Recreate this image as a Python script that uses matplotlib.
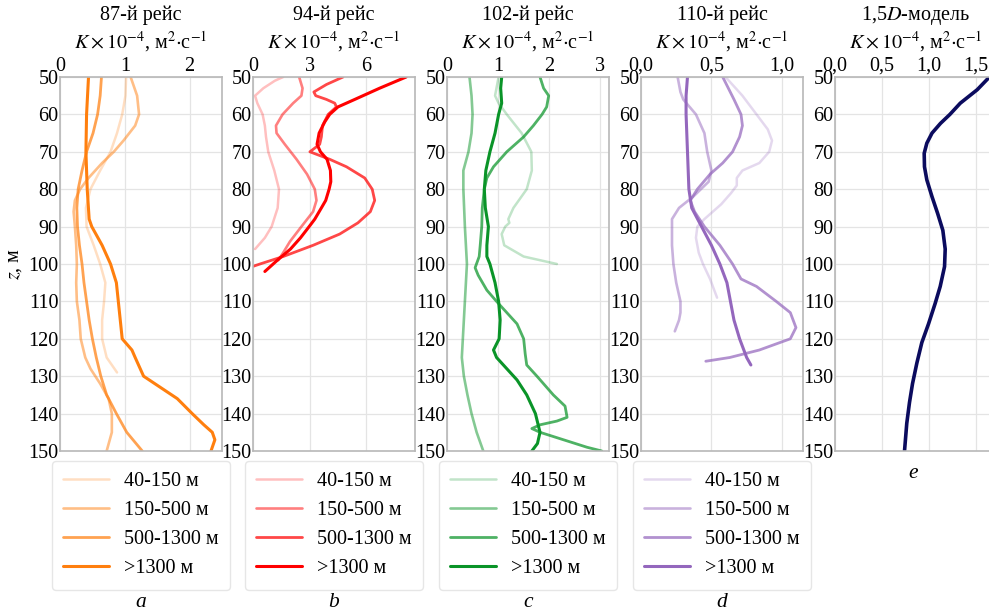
import numpy as np
import matplotlib
matplotlib.use("Agg")
import matplotlib.pyplot as plt

plt.rcParams['font.family'] = ['Liberation Serif', 'DejaVu Serif']
plt.rcParams['mathtext.fontset'] = 'stix'

# ---------------- data ----------------
titles = ["87-й рейс", "94-й рейс", "102-й рейс", "110-й рейс", "1,5$D$-модель"]
panel_letters = ["a", "b", "c", "d", "e"]
series_labels = ["40-150 м", "150-500 м", "500-1300 м", ">1300 м"]
yticks = [50, 60, 70, 80, 90, 100, 110, 120, 130, 140, 150]

xticks_a = [0, 1, 2]
xticks_b = [0, 3, 6]
xticks_c = [0, 1, 2, 3]
xticks_d = [0.0, 0.5, 1.0]
xticks_e = [0.0, 0.5, 1.0, 1.5]
xticklabels_a = ["0", "1", "2"]
xticklabels_b = ["0", "3", "6"]
xticklabels_c = ["0", "1", "2", "3"]
xticklabels_d = ["0,0", "0,5", "1,0"]
xticklabels_e = ["0,0", "0,5", "1,0", "1,5"]
xlims = [2.5, 8.6, 3.17, 1.15, 1.72]

# Panel a (87th cruise)
a1_z = [50, 55, 60, 65, 70, 75, 80, 85, 90, 95, 100, 105, 110, 115, 120, 125, 129]
a1_k = [1.02, 1.01, 0.96, 0.88, 0.78, 0.62, 0.47, 0.40, 0.41, 0.52, 0.62, 0.70, 0.68, 0.65, 0.65, 0.72, 0.88]
a2_z = [50, 55, 60, 63, 67, 70, 73, 77, 80, 83, 86, 90, 95, 100, 105, 110, 115, 120, 125, 128, 132, 136, 140, 145, 150]
a2_k = [1.09, 1.19, 1.22, 1.16, 0.98, 0.83, 0.65, 0.44, 0.31, 0.23, 0.21, 0.23, 0.25, 0.26, 0.25, 0.26, 0.30, 0.32, 0.39, 0.47, 0.62, 0.75, 0.80, 0.80, 0.72]
a3_z = [50, 55, 60, 65, 70, 75, 80, 85, 90, 95, 100, 105, 110, 115, 120, 125, 130, 135, 140, 145, 150]
a3_k = [0.64, 0.62, 0.58, 0.51, 0.41, 0.34, 0.28, 0.26, 0.27, 0.30, 0.34, 0.37, 0.41, 0.45, 0.50, 0.56, 0.63, 0.72, 0.87, 1.03, 1.27]
a4_z = [50, 60, 70, 80, 88, 90, 95, 100, 105, 110, 115, 120, 123, 125, 130, 133, 136, 140, 143, 145, 147, 150]
a4_k = [0.44, 0.41, 0.40, 0.42, 0.45, 0.49, 0.65, 0.78, 0.87, 0.90, 0.93, 0.96, 1.11, 1.16, 1.29, 1.55, 1.81, 2.04, 2.22, 2.35, 2.39, 2.33]

# Panel b (94th cruise)
b1_z = [50, 51, 53, 55, 57, 60, 63, 66, 70, 75, 80, 85, 90, 93, 96]
b1_k = [1.60, 1.16, 0.55, 0.11, 0.23, 0.51, 0.63, 0.69, 0.81, 1.13, 1.38, 1.31, 0.99, 0.63, 0.11]
b2_z = [50, 53, 55, 57, 60, 63, 65, 68, 72, 76, 80, 83, 86, 90, 94, 97, 99]
b2_k = [2.45, 2.63, 2.57, 2.13, 1.57, 1.22, 1.25, 1.69, 2.31, 2.87, 3.28, 3.37, 3.19, 2.57, 1.96, 1.60, 1.34]
b3_z = [50, 52, 54, 55, 56, 57, 58, 60, 63, 66, 68, 70, 72, 74, 77, 80, 83, 86, 89, 92, 95, 98, 100, 100.6]
b3_k = [4.78, 3.90, 3.23, 3.33, 3.90, 4.34, 4.43, 3.99, 3.69, 3.63, 3.54, 3.02, 4.07, 4.96, 5.93, 6.33, 6.46, 6.23, 5.57, 4.60, 3.19, 1.60, 0.37, 0.02]
b4_z = [50, 53, 56, 58, 60, 62, 65, 68, 70, 72, 75, 78, 80, 83, 85, 88, 90, 93, 96, 99, 102]
b4_k = [8.13, 6.72, 5.40, 4.51, 4.07, 3.81, 3.51, 3.40, 3.58, 3.93, 4.11, 4.13, 4.04, 3.86, 3.63, 3.28, 2.98, 2.52, 1.99, 1.29, 0.63]

# Panel c (102nd cruise)
c1_z = [50, 55, 57, 60, 65, 70, 75, 80, 85, 88, 89, 90, 92, 95, 98, 100]
c1_k = [1.01, 0.94, 1.01, 1.17, 1.46, 1.65, 1.66, 1.56, 1.30, 1.20, 1.22, 1.14, 1.07, 1.12, 1.50, 2.15]
c2_z = [50, 55, 60, 65, 70, 75, 80, 90, 100, 110, 120, 125, 130, 135, 140, 145, 150]
c2_k = [0.44, 0.48, 0.50, 0.48, 0.42, 0.32, 0.32, 0.35, 0.39, 0.35, 0.31, 0.29, 0.33, 0.40, 0.48, 0.58, 0.71]
c3_z = [50, 53, 55, 58, 60, 63, 66, 70, 74, 77, 80, 85, 90, 95, 98, 101, 103, 107, 110, 113, 116, 120, 124, 127, 130, 135, 138, 141, 142, 143, 144, 145, 147, 149, 150]
c3_k = [1.82, 1.89, 1.99, 1.95, 1.86, 1.69, 1.50, 1.17, 0.91, 0.78, 0.73, 0.69, 0.68, 0.65, 0.63, 0.55, 0.61, 0.78, 0.97, 1.17, 1.37, 1.50, 1.53, 1.56, 1.76, 2.08, 2.31, 2.35, 2.15, 1.82, 1.66, 1.82, 2.28, 2.74, 3.03]
c4_z = [50, 53, 57, 60, 65, 70, 75, 80, 85, 90, 95, 98, 100, 105, 110, 115, 120, 123, 125, 128, 131, 135, 140, 145, 148, 150]
c4_k = [1.07, 1.05, 1.07, 1.01, 0.94, 0.84, 0.76, 0.73, 0.75, 0.81, 0.78, 0.78, 0.84, 0.94, 1.01, 1.04, 1.02, 0.91, 0.97, 1.17, 1.37, 1.56, 1.73, 1.82, 1.77, 1.66]

# Panel d (110th cruise)
d1_z = [50, 55, 60, 64, 67, 70, 73, 75, 77, 79, 81, 84, 86, 88, 90, 93, 97, 100, 104, 108, 109]
d1_k = [0.60, 0.72, 0.82, 0.90, 0.93, 0.91, 0.84, 0.72, 0.68, 0.68, 0.64, 0.57, 0.51, 0.45, 0.40, 0.39, 0.41, 0.44, 0.49, 0.53, 0.54]
d2_z = [50, 54, 56, 60, 65, 70, 75, 78, 82, 85, 88, 90, 95, 100, 105, 110, 113, 115, 118]
d2_k = [0.26, 0.28, 0.30, 0.39, 0.45, 0.47, 0.50, 0.48, 0.37, 0.27, 0.22, 0.22, 0.22, 0.23, 0.25, 0.28, 0.28, 0.27, 0.24]
d3_z = [50, 53, 56, 60, 63, 66, 70, 73, 76, 80, 83, 86, 90, 95, 100, 104, 106, 110, 113, 117, 120, 123, 125, 126]
d3_k = [0.58, 0.62, 0.66, 0.71, 0.72, 0.70, 0.65, 0.58, 0.49, 0.40, 0.35, 0.38, 0.45, 0.56, 0.65, 0.71, 0.82, 0.96, 1.06, 1.10, 1.06, 0.84, 0.63, 0.46]
d4_z = [50, 55, 60, 70, 80, 85, 90, 95, 100, 105, 109, 115, 120, 125, 127]
d4_k = [0.33, 0.32, 0.32, 0.33, 0.34, 0.36, 0.43, 0.50, 0.56, 0.61, 0.63, 0.66, 0.70, 0.75, 0.78]

# Panel e (1.5D model)
e_z = [50, 53.4, 57, 60, 62.4, 65, 67.7, 70.4, 74, 77.5, 82, 86.5, 91, 96, 100.7, 106, 110.5, 116, 121, 126.5, 132, 137, 142.6, 150]
e_k = [1.64, 1.51, 1.33, 1.22, 1.12, 1.03, 0.975, 0.947, 0.95, 0.975, 1.03, 1.09, 1.145, 1.17, 1.163, 1.117, 1.064, 0.993, 0.922, 0.869, 0.823, 0.791, 0.762, 0.738]

panels = [
    [(a1_z, a1_k), (a2_z, a2_k), (a3_z, a3_k), (a4_z, a4_k)],
    [(b1_z, b1_k), (b2_z, b2_k), (b3_z, b3_k), (b4_z, b4_k)],
    [(c1_z, c1_k), (c2_z, c2_k), (c3_z, c3_k), (c4_z, c4_k)],
    [(d1_z, d1_k), (d2_z, d2_k), (d3_z, d3_k), (d4_z, d4_k)],
]
xticks_all = [xticks_a, xticks_b, xticks_c, xticks_d, xticks_e]
xticklabels_all = [xticklabels_a, xticklabels_b, xticklabels_c, xticklabels_d, xticklabels_e]

base_colors = ['#ff7f0e', '#ff0000', '#0a9428', '#9467bd']
alphas = [0.25, 0.5, 0.72, 1.0]
widths = [1.8, 1.9, 2.0, 2.2]

# ---------------- figure ----------------
W, H = 989, 613
fig = plt.figure(figsize=(W / 100, H / 100), dpi=100)
lefts = [60, 253, 447, 641, 835]
ax_w, ax_top, ax_bot = 162, 77, 451
FS = 14.5

for i in range(5):
    ax = fig.add_axes([lefts[i] / W, (H - ax_bot) / H, ax_w / W, (ax_bot - ax_top) / H])
    if i < 4:
        for j, (z, k) in enumerate(panels[i]):
            ax.plot(k, z, color=base_colors[i], alpha=alphas[j], lw=widths[j],
                    label=series_labels[j], solid_capstyle='round')
    else:
        ax.plot(e_k, e_z, color='#0b0b5e', lw=2.6)
    ax.set_xlim(0, xlims[i])
    ax.set_ylim(150, 50)
    ax.set_yticks(yticks)
    ax.set_xticks(xticks_all[i])
    ax.set_xticklabels(xticklabels_all[i])
    ax.xaxis.tick_top()
    ax.tick_params(axis='both', length=0, labelsize=FS, pad=1)
    ax.grid(True, color='#e4e4e4', lw=0.9)
    ax.set_axisbelow(True)
    for s in ax.spines.values():
        s.set_color('#b8b8b8')
        s.set_linewidth(1.2)
    ax.text(0.5, 1.165, titles[i], transform=ax.transAxes, ha='center', va='center', fontsize=FS)
    ax.text(0.5, 1.095, r"$K\times10^{-4}$, м$^{2}$$\cdot$с$^{-1}$", transform=ax.transAxes,
            ha='center', va='center', fontsize=FS)
    if i == 0:
        ax.set_ylabel("$z$, м", fontsize=FS, labelpad=3)
    if i < 4:
        leg = ax.legend(loc='upper center', bbox_to_anchor=(0.5, -0.01), fontsize=FS,
                        handlelength=2.3, labelspacing=0.5, borderpad=0.55,
                        handletextpad=0.75, borderaxespad=0.3, frameon=True, fancybox=True)
        leg.get_frame().set_edgecolor('#e0e0e0')
        ax.text(0.5, -0.405, panel_letters[i], transform=ax.transAxes, ha='center', va='center',
                fontsize=FS + 1, style='italic')
    else:
        ax.text(0.48, -0.06, panel_letters[i], transform=ax.transAxes, ha='center', va='center',
                fontsize=FS + 1, style='italic')

fig.savefig("out.png", dpi=100)
